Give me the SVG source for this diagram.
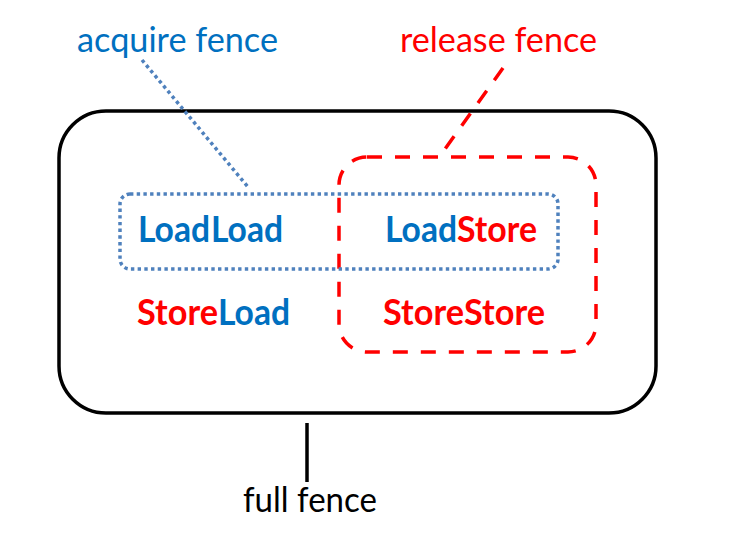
<svg xmlns="http://www.w3.org/2000/svg" width="744" height="549" viewBox="0 0 744 549">
<style>
.t{font-family:Lato,"Open Sans","Liberation Sans",sans-serif;font-size:35px}
.b{font-family:Lato,"Open Sans","Liberation Sans",sans-serif;font-size:37px;font-weight:bold}
.blue{fill:#0070C0}
.red{fill:#FF0000}
.blk{fill:#000}
.dot{fill:none;stroke:#4F81BD;stroke-width:3.5;stroke-dasharray:3.4 3.3}
.dash{fill:none;stroke:#FF0000;stroke-width:3.5;stroke-dasharray:15 13}
</style>
<rect width="744" height="549" fill="#fff"/>
<g id="full">
<rect x="59" y="111" width="597" height="302" rx="47" fill="none" stroke="#000" stroke-width="3.5"/>
</g>
<g id="release">
<rect x="339" y="157" width="257" height="195" rx="28" class="dash"/>
</g>
<g id="acquire">
<rect x="120" y="194" width="438" height="75" rx="10" class="dot"/>
</g>
<g id="connectors">
<line x1="142" y1="60" x2="248" y2="187" class="dot"/>
<line x1="503" y1="68" x2="445" y2="149" class="dash"/>
<line x1="307" y1="423" x2="307" y2="482" stroke="#000" stroke-width="3.5"/>
</g>
<g id="labels">
<text x="77" y="52" class="t blue" textLength="201" lengthAdjust="spacingAndGlyphs">acquire fence</text>
<text x="400" y="52" class="t red" textLength="197" lengthAdjust="spacingAndGlyphs">release fence</text>
<text x="243" y="512" class="t blk" textLength="134" lengthAdjust="spacingAndGlyphs">full fence</text>
</g>
<g id="loadload">
<text x="138" y="242" class="b blue" textLength="72" lengthAdjust="spacingAndGlyphs">Load</text>
<text x="211" y="242" class="b blue" textLength="72" lengthAdjust="spacingAndGlyphs">Load</text>
</g>
<g id="loadstore">
<text x="385" y="242" class="b blue" textLength="72" lengthAdjust="spacingAndGlyphs">Load</text>
<text x="457" y="242" class="b red" textLength="80" lengthAdjust="spacingAndGlyphs">Store</text>
</g>
<g id="storeload">
<text x="137" y="325" class="b red" textLength="81" lengthAdjust="spacingAndGlyphs">Store</text>
<text x="218" y="325" class="b blue" textLength="72" lengthAdjust="spacingAndGlyphs">Load</text>
</g>
<g id="storestore">
<text x="383" y="325" class="b red" textLength="81" lengthAdjust="spacingAndGlyphs">Store</text>
<text x="464" y="325" class="b red" textLength="81" lengthAdjust="spacingAndGlyphs">Store</text>
</g>
</svg>
